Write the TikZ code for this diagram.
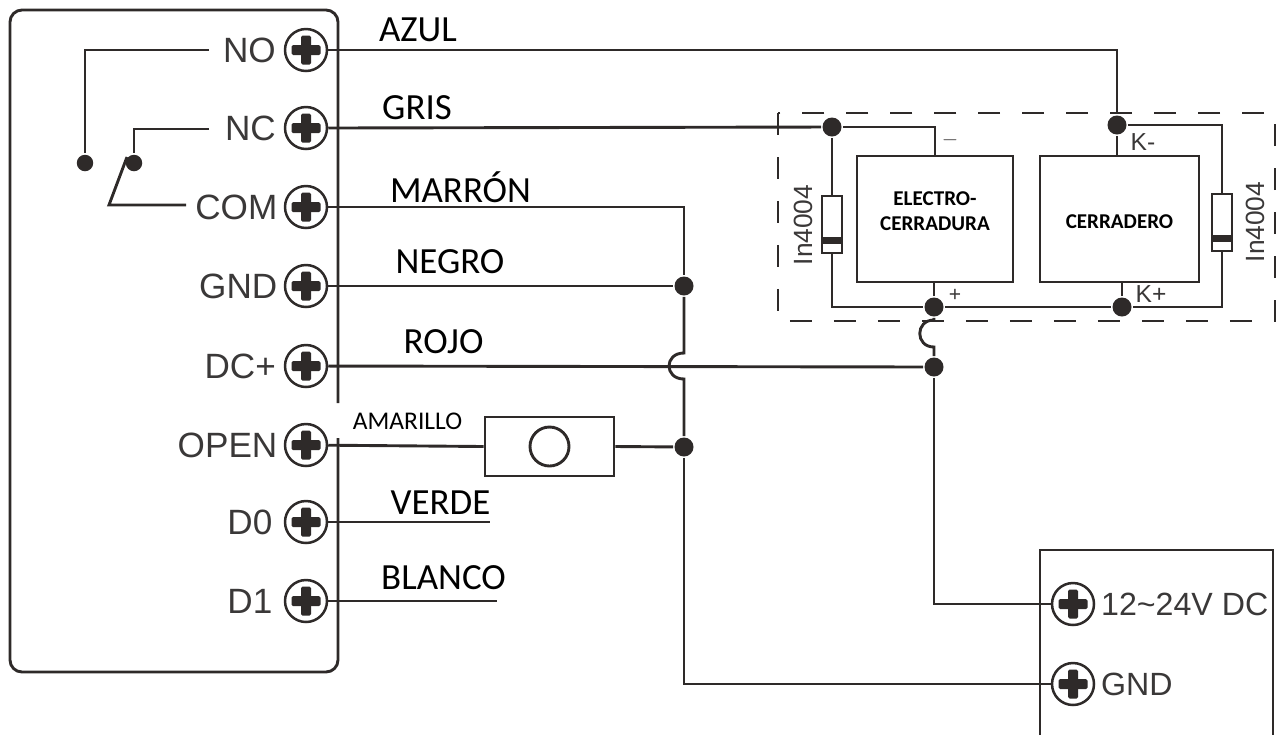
\documentclass[tikz,border=0pt]{standalone}
\usepackage{fontspec}
\setmainfont{Liberation Sans}
\newfontfamily\carlito{Carlito}
\usetikzlibrary{positioning}
\definecolor{wire}{HTML}{2E2A29}
\definecolor{printtext}{HTML}{3A3838}
\begin{document}
\begin{tikzpicture}[x=0.02cm, y=-0.02cm, line width=0.058cm, draw=wire,
    terminal/.style={circle, draw, line width=0.05cm, fill=white, inner sep=0pt, minimum size=0.84cm, path picture={
        \fill[wire, rounded corners=0.03cm] ([xshift=-0.1cm,yshift=-0.29cm]path picture bounding box.center) rectangle ++(0.2cm,0.58cm);
        \fill[wire, rounded corners=0.03cm] ([xshift=-0.29cm,yshift=-0.1cm]path picture bounding box.center) rectangle ++(0.58cm,0.2cm);}},
    junction/.style={circle, fill=wire, inner sep=0pt, minimum size=0.38cm},
    contact/.style={circle, fill=wire, inner sep=0pt, minimum size=0.33cm},
    pin/.style={inner sep=0pt, text=printtext, font=\fontsize{20}{22}\selectfont},
    supply pin/.style={inner sep=0pt, text=printtext, font=\fontsize{18.3}{20}\selectfont},
    small print/.style={inner sep=0pt, text=printtext, font=\fontsize{12}{14}\selectfont},
    diode print/.style={inner sep=0pt, text=printtext, rotate=90, font=\fontsize{15}{17}\selectfont},
    wire label/.style={inner sep=0pt, text=black, font=\carlito\fontsize{21}{23}\selectfont},
    lock box/.style={draw, inner sep=0pt, minimum height=2.52cm},
    lock label/.style={align=center, inner sep=0pt, text=black, font=\carlito\bfseries\fontsize{12}{14.2}\selectfont},
    diode/.style={draw, fill=white, inner sep=0pt, minimum width=0.4cm, minimum height=1.14cm, path picture={
        \fill[wire] ([yshift=0.18cm]path picture bounding box.south west) rectangle ([yshift=0.33cm]path picture bounding box.south east);}}]
    \useasboundingbox (0,0) rectangle (1277,735);

    \draw[rounded corners=0.24cm] (338,403) -- (338,10) -- (10,10) -- (10,672) -- (338,672) -- (338,438);
    \draw[dashed, dash pattern=on 0.44cm off 0.44cm] (778,113) rectangle (1275,321);
    \draw (1040,735) -- (1040,550) -- (1273,550) -- (1273,735);

    \node[terminal] (no) at (306,50) {};
    \node[terminal] (nc) at (306,128) {};
    \node[terminal] (com) at (306,207) {};
    \node[terminal] (gnd) at (306,286) {};
    \node[terminal] (dc) at (306,366) {};
    \node[terminal] (open) at (306,445) {};
    \node[terminal] (dzero) at (306,522) {};
    \node[terminal] (done) at (306,601) {};
    \node[terminal] (psudc) at (1073,604) {};
    \node[terminal] (psugnd) at (1073,684) {};

    \node[pin] (nolabel) [left=0.13cm of no] {NO};
    \node[pin] (nclabel) [left=0.13cm of nc] {NC};
    \node[pin] (comlabel) [left=0.1cm of com] {COM};
    \node[pin] (gndlabel) [left=0.1cm of gnd] {GND};
    \node[pin] (dclabel) [left=0.13cm of dc] {DC+};
    \node[pin] (openlabel) [left=0.1cm of open] {OPEN};
    \node[pin] (dzerolabel) [left=0.2cm of dzero] {D0};
    \node[pin] (donelabel) [left=0.2cm of done] {D1};
    \node[supply pin] (psudclabel) [right=0.09cm of psudc] {12\textasciitilde24V DC};
    \node[supply pin] (psugndlabel) [right=0.09cm of psugnd] {GND};

    \node[contact] (contactno) at (85,163) {};
    \node[contact] (contactnc) at (134,163) {};
    \coordinate (relayno) at (209,50);
    \coordinate (relaync) at (209,129);
    \coordinate (relaycom) at (186,205);
    \coordinate (armbend) at (109,205);
    \coordinate (armtip) at (127,157);
    \draw (relayno) -| (contactno);
    \draw (relaync) -| (contactnc);
    \draw (relaycom) -- (armbend) -- (armtip);

    \node[lock box, minimum width=3.12cm] (electro) at (935,219) {};
    \node[lock box, minimum width=3.18cm] (cerradero) at (1119.5,219) {};
    \node[lock label] (electrolabel) at (935,211.5) {ELECTRO-\\CERRADURA};
    \node[lock label] (cerraderolabel) at (1119.5,222) {CERRADERO};
    \node[diode] (diodeleft) at (832,224.5) {};
    \node[diode] (dioderight) at (1222,222.5) {};
    \node[diode print] (printleft) at (803,225) {In4004};
    \node[diode print] (printright) at (1255,222) {In4004};

    \node[junction] (nodiode) at (832,127) {};
    \node[junction] (ktop) at (1117,125) {};
    \node[junction] (plus) at (934,307) {};
    \node[junction] (kbottom) at (1122,307) {};
    \node[junction] (feed) at (934,367) {};
    \node[junction] (gndjoin) at (684,286) {};
    \node[junction] (openjoin) at (684,447) {};

    \node[small print] (minuslabel) at (950,140) {$-$};
    \node[small print] (pluslabel) at (955,295) {+};
    \node[small print, font=\fontsize{14}{16}\selectfont] (kminus) at (1143,142) {K-};
    \node[small print, font=\fontsize{14}{16}\selectfont] (kplus) at (1151,294) {K+};

    \draw (no) -| (ktop);
    \draw (nc.east) -- (nodiode);
    \draw (nodiode) -- (935,127) -- (electro.north);
    \draw (ktop) -- (ktop |- cerradero.north);
    \draw (ktop) -| (dioderight.north);
    \draw (nodiode) -- (diodeleft.north);
    \draw (diodeleft.south) |- (plus);
    \draw (dioderight.south) |- (kbottom);
    \draw (plus) -- (kbottom);
    \draw (plus) -- (plus |- electro.south);
    \draw (kbottom) -- (kbottom |- cerradero.south);

    \draw (plus) -- (934,320) .. controls (915,320) and (915,347) .. (934,347) -- (feed);
    \draw (dc) -- (feed);
    \draw (feed) |- (psudc);

    \draw (com) -| (gndjoin);
    \draw (gnd) -- (gndjoin);
    \draw (gndjoin) -- (684,353) .. controls (664,353) and (664,379) .. (684,379) -- (openjoin);
    \draw (openjoin) |- (psugnd);

    \node[draw, minimum width=2.58cm, minimum height=1.18cm, inner sep=0pt] (pushbox) at (549.5,446.5) {};
    \node[circle, draw, minimum size=0.78cm, inner sep=0pt] (pushbutton) at (pushbox.center) {};
    \draw (open) -- (pushbox.west);
    \draw (pushbox.east) -- (openjoin);

    \coordinate (dzeroend) at (490,522);
    \coordinate (doneend) at (497,601);
    \draw (dzero) -- (dzeroend);
    \draw (done) -- (doneend);

    \node[wire label] (azul) at (418,30) {AZUL};
    \node[wire label] (gris) at (417,108) {GRIS};
    \node[wire label] (marron) at (460.5,187) {MARRÓN};
    \node[wire label] (negro) at (450,262) {NEGRO};
    \node[wire label] (rojo) at (443.5,342) {ROJO};
    \node[wire label, font=\carlito\fontsize{14.5}{16}\selectfont] (amarillo) at (407.5,421) {AMARILLO};
    \node[wire label] (verde) at (440.5,503) {VERDE};
    \node[wire label] (blanco) at (443.5,578) {BLANCO};
\end{tikzpicture}
\end{document}
